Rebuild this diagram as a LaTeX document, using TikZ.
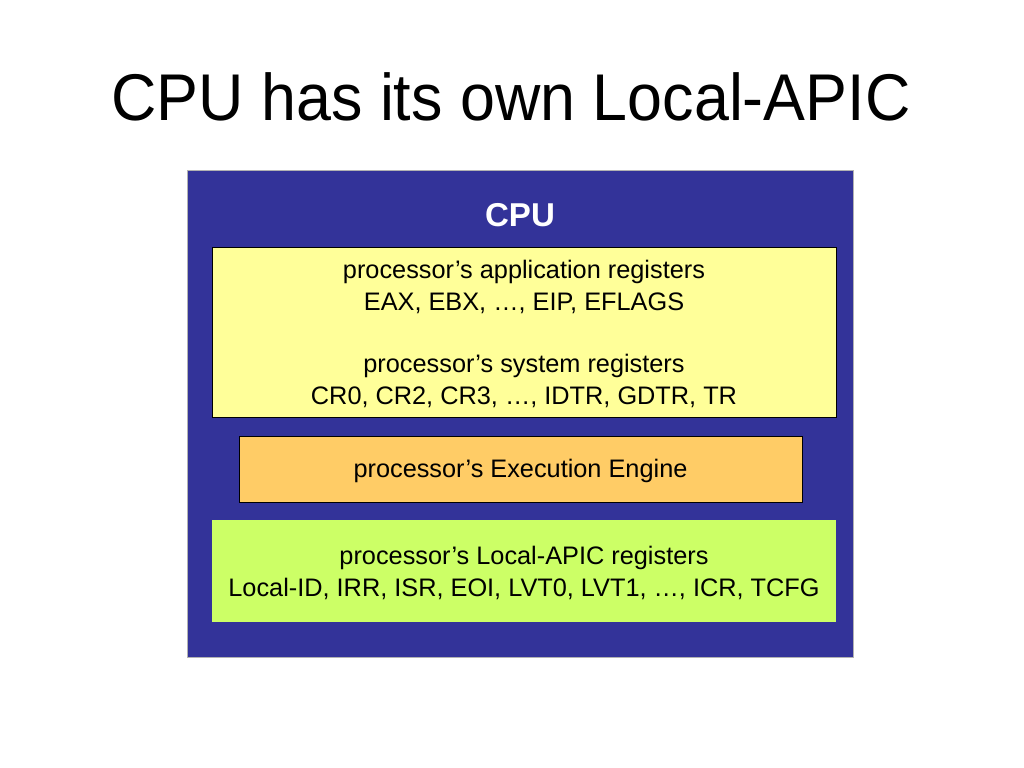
\documentclass[tikz,border=0pt]{standalone}
\usepackage{fontspec}
\setmainfont{Liberation Sans}
\definecolor{cpublue}{HTML}{333399}
\definecolor{regyellow}{HTML}{FFFF99}
\definecolor{engorange}{HTML}{FFCC66}
\definecolor{apicgreen}{HTML}{CCFF66}
\tikzset{
    box/.style={draw=black, line width=0.6pt, inner sep=0pt, align=center,
                font=\fontsize{18}{22.3}\selectfont},
    cpubox/.style={fill=cpublue, draw=gray!60, line width=0.5pt, inner sep=0pt,
                   minimum width=16.65cm, minimum height=12.175cm},
    regs/.style={box, fill=regyellow, minimum width=15.6cm, minimum height=4.25cm},
    engine/.style={box, fill=engorange, minimum width=14.075cm, minimum height=1.65cm},
    apic/.style={box, fill=apicgreen, draw=none, minimum width=15.6cm, minimum height=2.55cm},
}
\begin{document}
\begin{tikzpicture}[x=0.025cm, y=-0.025cm]

    \useasboundingbox (0,0) rectangle (1024,768);
    \node[font=\fontsize{47}{50}\selectfont, xscale=0.95] (title) at (511,97) {CPU has its own Local-APIC};
    \node[cpubox] (cpu) at (520,413.5) {};
    \node[font=\fontsize{23.5}{26}\selectfont\bfseries, text=white] (cpulabel) at (520,215) {CPU};
    \node[regs] (regs) at (524,332) {\rule{0pt}{16pt}processor’s application registers\\EAX, EBX, …, EIP, EFLAGS\\[22.3pt]processor’s system registers\\CR0, CR2, CR3, …, IDTR, GDTR, TR};
    \node[engine] (engine) at (520.5,469) {\rule{0pt}{16pt}processor’s Execution Engine};
    \node[apic] (apic) at (524,571) {\rule{0pt}{16pt}processor’s Local-APIC registers\\Local-ID, IRR, ISR, EOI, LVT0, LVT1, …, ICR, TCFG};

\end{tikzpicture}
\end{document}
